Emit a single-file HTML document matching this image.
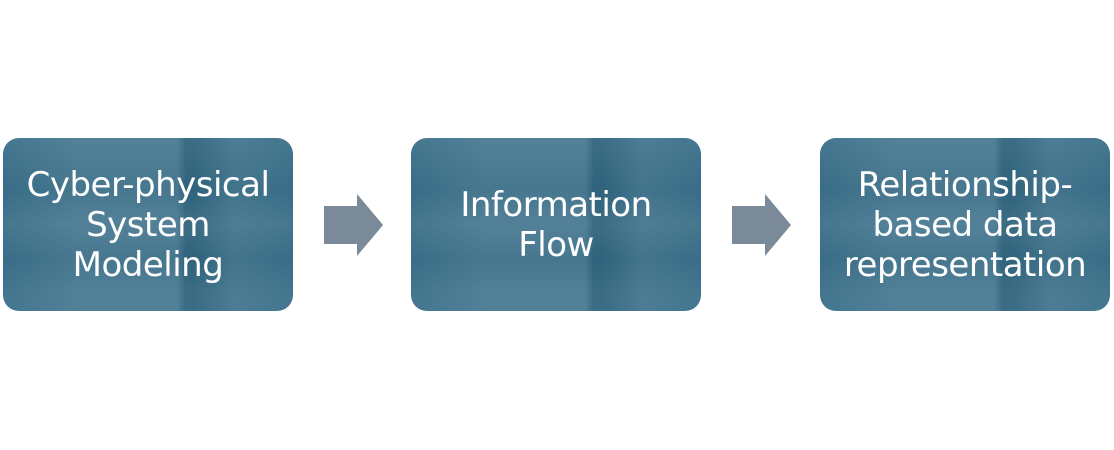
<!DOCTYPE html>
<html><head><style>
body{margin:0;width:1114px;height:450px;background:#fff;position:relative;overflow:hidden;font-family:"DejaVu Sans","Liberation Sans",sans-serif}
.b{position:absolute;top:138px;width:290px;height:173px;border-radius:16px;background:#336a85;
background-image:linear-gradient(90deg,rgba(255,255,255,.03) 0,rgba(255,255,255,.1) 25%,rgba(255,255,255,.1) 60%,rgba(0,0,0,.05) 63%,rgba(0,0,0,.05) 66%,rgba(255,255,255,.08) 80%,rgba(255,255,255,.03)),
linear-gradient(180deg,rgba(255,255,255,.06) 0,rgba(0,0,0,.02) 30%,rgba(255,255,255,.06) 50%,rgba(0,0,0,.02) 70%,rgba(255,255,255,.05) 90%);
color:#fff;display:flex;align-items:center;justify-content:center;text-align:center;font-size:34px;line-height:40px;letter-spacing:-0.5px}
.a{position:absolute;top:194px}
</style></head><body>
<div class="b" style="left:3px">Cyber-physical<br>System<br>Modeling</div>
<div class="b" style="left:411px">Information<br>Flow</div>
<div class="b" style="left:820px">Relationship-<br>based data<br>representation</div>
<svg class="a" style="left:324px" width="60" height="64"><polygon points="0,12 33,12 33,0 59,31 33,62 33,50 0,50" fill="#7a8a98"/></svg>
<svg class="a" style="left:732px" width="60" height="64"><polygon points="0,12 33,12 33,0 59,31 33,62 33,50 0,50" fill="#7a8a98"/></svg>
</body></html>
